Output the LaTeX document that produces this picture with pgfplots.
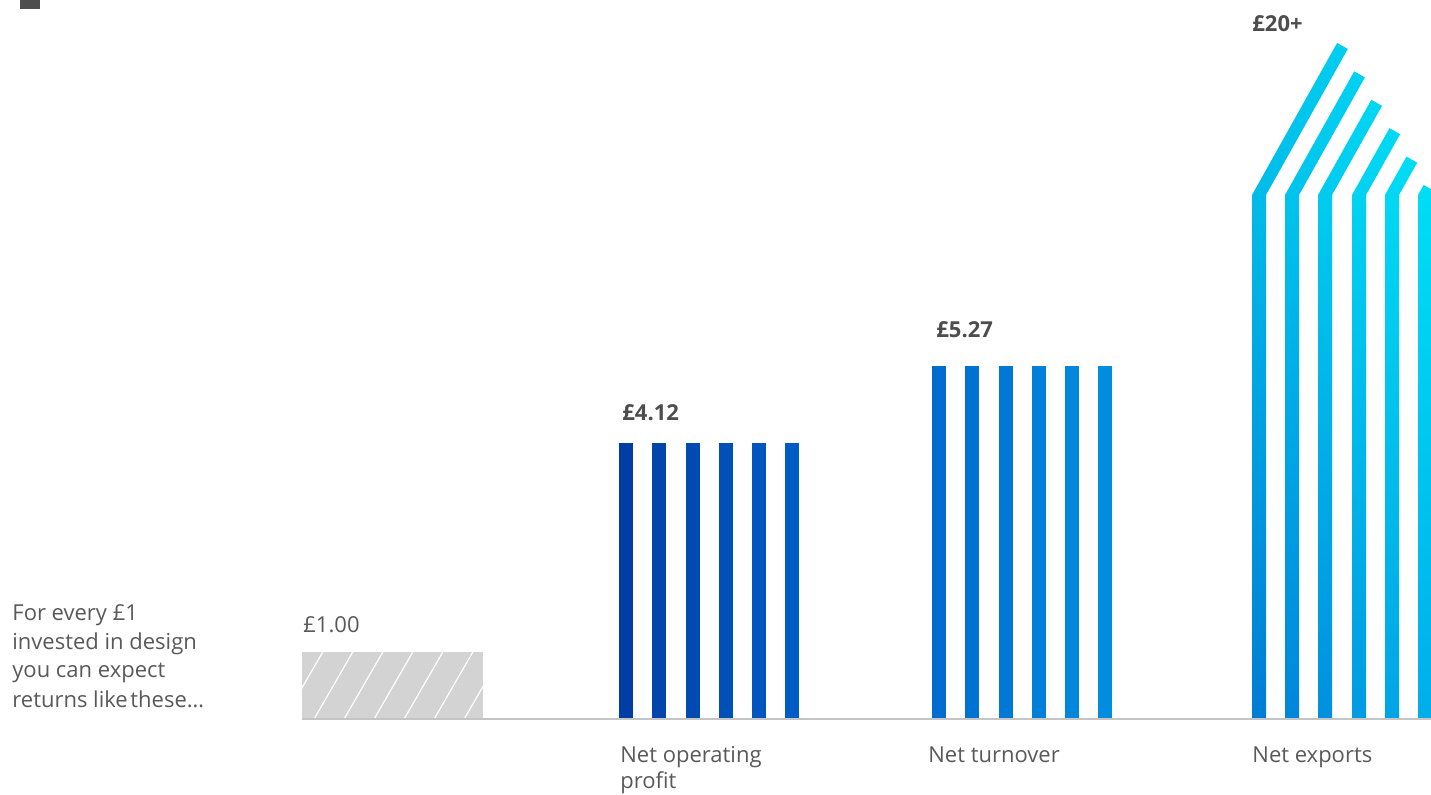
\documentclass[border=0pt]{standalone}
\usepackage{pgfplots}
\pgfplotsset{compat=1.18}
\usetikzlibrary{patterns.meta}
\usepackage{fontspec}
\setmainfont{Open Sans}
\definecolor{txt}{HTML}{595959}
\definecolor{txtb}{HTML}{4D4D4D}
\definecolor{greybar}{HTML}{D3D3D3}
\definecolor{baseln}{HTML}{C4C4C4}
% net operating profit stripes
\definecolor{a0}{RGB}{0,62,166}
\definecolor{a1}{RGB}{0,68,172}
\definecolor{a2}{RGB}{0,74,178}
\definecolor{a3}{RGB}{0,80,184}
\definecolor{a4}{RGB}{0,86,190}
\definecolor{a5}{RGB}{0,92,196}
% net turnover stripes
\definecolor{b0}{RGB}{0,108,208}
\definecolor{b1}{RGB}{0,114,211}
\definecolor{b2}{RGB}{0,120,214}
\definecolor{b3}{RGB}{0,127,217}
\definecolor{b4}{RGB}{0,134,220}
\definecolor{b5}{RGB}{0,141,223}
% net exports stripes (bottom / top)
\definecolor{cb0}{RGB}{0,124,212}\definecolor{ct0}{RGB}{0,206,240}
\definecolor{cb1}{RGB}{0,134,218}\definecolor{ct1}{RGB}{0,210,241}
\definecolor{cb2}{RGB}{0,144,222}\definecolor{ct2}{RGB}{0,214,242}
\definecolor{cb3}{RGB}{0,154,226}\definecolor{ct3}{RGB}{0,217,243}
\definecolor{cb4}{RGB}{0,164,230}\definecolor{ct4}{RGB}{0,220,244}
\definecolor{cb5}{RGB}{0,174,234}\definecolor{ct5}{RGB}{0,222,245}
\newcommand{\stripe}[3]{\addplot[ybar, bar width=14, bar shift=0pt, fill=#3, draw=none] coordinates {(#1,#2)};}
\newcommand{\lbl}{\fontsize{11bp}{13bp}\selectfont}
\begin{document}
\begin{tikzpicture}
\begin{axis}[
  scale only axis, width=715.5bp, height=397.5bp,
  xmin=0, xmax=1431, ymin=-1.1343, ymax=10.7313,
  hide axis,
]
% small decoration, top left
\addplot[fill=txtb, draw=none] coordinates {(20,10.597)(40,10.597)(40,10.8)(20,10.8)} -- cycle;
% GBP 1.00 invested (hatched)
\addplot[ybar, bar width=181, bar shift=0pt, fill=greybar, draw=none,
  postaction={pattern={Lines[angle=60,distance=13bp,line width=0.6bp]}, pattern color=white}]
  coordinates {(392.5,1.00)};
% Net operating profit: 4.12
\stripe{626}{4.12}{a0}
\stripe{659}{4.12}{a1}
\stripe{692.5}{4.12}{a2}
\stripe{726}{4.12}{a3}
\stripe{759}{4.12}{a4}
\stripe{792}{4.12}{a5}
% Net turnover: 5.27
\stripe{939}{5.27}{b0}
\stripe{972}{5.27}{b1}
\stripe{1005.5}{5.27}{b2}
\stripe{1039}{5.27}{b3}
\stripe{1072}{5.27}{b4}
\stripe{1105}{5.27}{b5}
% Net exports: 20+ (broken bar with slanted tops)
\addplot[draw=none, top color=ct0, bottom color=cb0] coordinates {(1252,0)(1266,0)(1266,7.821)(1347.8,10.001)(1337.1,10.090)(1252,7.821)} -- cycle;
\addplot[draw=none, top color=ct1, bottom color=cb1] coordinates {(1285,0)(1299,0)(1299,7.821)(1364.9,9.576)(1354.2,9.666)(1285,7.821)} -- cycle;
\addplot[draw=none, top color=ct2, bottom color=cb2] coordinates {(1318,0)(1332,0)(1332,7.821)(1382.0,9.152)(1371.3,9.242)(1318,7.821)} -- cycle;
\addplot[draw=none, top color=ct3, bottom color=cb3] coordinates {(1352,0)(1366,0)(1366,7.821)(1400.1,8.728)(1389.4,8.818)(1352,7.821)} -- cycle;
\addplot[draw=none, top color=ct4, bottom color=cb4] coordinates {(1385,0)(1399,0)(1399,7.821)(1417.2,8.304)(1406.5,8.394)(1385,7.821)} -- cycle;
\addplot[draw=none, top color=ct5, bottom color=cb5] coordinates {(1418,0)(1432,0)(1432,7.821)(1434.3,7.881)(1423.6,7.970)(1418,7.821)} -- cycle;
% baseline
\addplot[baseln, line width=0.8bp] coordinates {(302,0)(1431,0)};
% value labels
\node[anchor=base west, inner sep=0, text=txt, font=\lbl] at (axis cs:303,1.284) {£1.00};
\node[anchor=base west, inner sep=0, text=txtb, font=\lbl\bfseries] at (axis cs:622,4.448) {£4.12};
\node[anchor=base west, inner sep=0, text=txtb, font=\lbl\bfseries] at (axis cs:936,5.687) {£5.27};
\node[anchor=base west, inner sep=0, text=txtb, font=\lbl\bfseries] at (axis cs:1252,10.254) {£20+};
% category labels
\node[anchor=base west, inner sep=0, text=txt, font=\lbl] at (axis cs:620,-0.642) {Net operating};
\node[anchor=base west, inner sep=0, text=txt, font=\lbl] at (axis cs:620,-1.030) {profit};
\node[anchor=base west, inner sep=0, text=txt, font=\lbl] at (axis cs:928,-0.642) {Net turnover};
\node[anchor=base west, inner sep=0, text=txt, font=\lbl] at (axis cs:1252,-0.642) {Net exports};
% left note
\node[anchor=base west, inner sep=0, text=txt, font=\lbl] at (axis cs:12,1.463) {For every £1};
\node[anchor=base west, inner sep=0, text=txt, font=\lbl] at (axis cs:12,1.030) {invested in design};
\node[anchor=base west, inner sep=0, text=txt, font=\lbl] at (axis cs:12,0.612) {you can expect};
\node[anchor=base west, inner sep=0, text=txt, font=\lbl] at (axis cs:12,0.179) {returns like\hspace{0.12em}these…};
% keep the whole frame as the picture's extent
\path (rel axis cs:0,0) rectangle (rel axis cs:1,1);
\end{axis}
\end{tikzpicture}
\end{document}
